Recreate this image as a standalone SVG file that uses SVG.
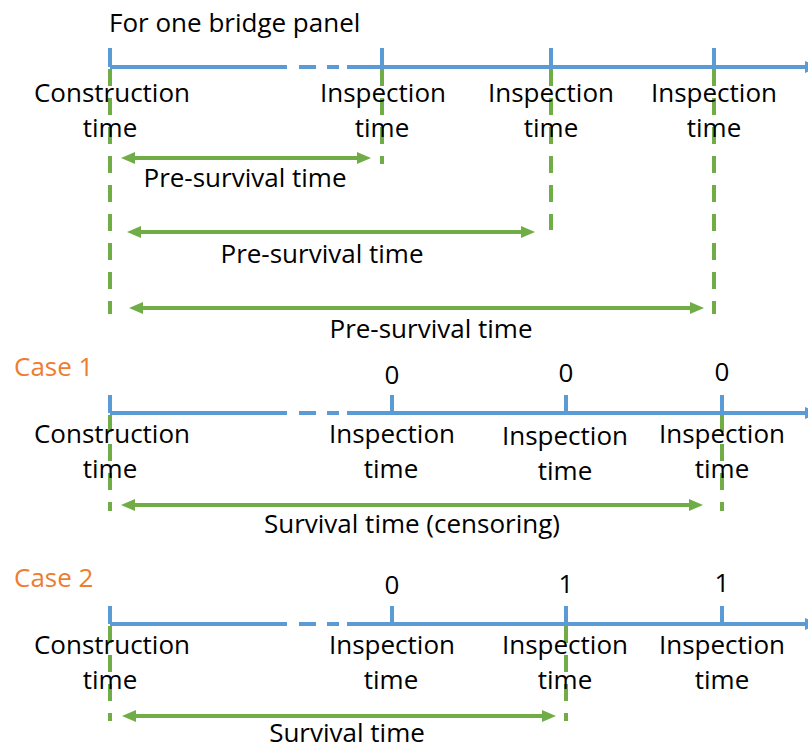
<svg xmlns="http://www.w3.org/2000/svg" width="808" height="749" viewBox="0 0 808 749">
<style>
text{font-family:"Open Sans","Noto Sans","DejaVu Sans",sans-serif;font-size:26px;fill:#000}
.c{text-anchor:middle}
.case{fill:#ED7D31}
.axis{stroke:#5B9BD5;stroke-width:4;fill:none}
.tick{stroke:#5B9BD5;stroke-width:4}
.guide{stroke:#70AD47;stroke-width:4;stroke-dasharray:17 12;fill:none}
.span{stroke:#70AD47;stroke-width:4;fill:none;marker-start:url(#ga);marker-end:url(#ga)}
</style>
<defs>
<marker id="ga" markerUnits="userSpaceOnUse" markerWidth="14" markerHeight="12" refX="1" refY="6" orient="auto-start-reverse"><path d="M0,0 L14,6 L0,12 Z" fill="#70AD47"/></marker>
<marker id="ba" markerUnits="userSpaceOnUse" markerWidth="14" markerHeight="12" refX="1" refY="6" orient="auto"><path d="M0,0 L14,6 L0,12 Z" fill="#5B9BD5"/></marker>
</defs>
<rect width="808" height="749" fill="#fff"/>

<g id="title"><text x="109" y="32">For one bridge panel</text></g>

<g id="connectors">
<path class="axis" d="M110,67 H287 M299,67 H316 M327,67 H339 M347,67 H806" marker-end="url(#ba)"/>
<path class="axis" d="M110,413 H287 M299,413 H316 M327,413 H339 M347,413 H806" marker-end="url(#ba)"/>
<path class="axis" d="M110,624 H287 M299,624 H316 M327,624 H339 M347,624 H806" marker-end="url(#ba)"/>
<path class="tick" d="M110,48 V67 M382,48 V67 M551,48 V67 M714,48 V67"/>
<path class="tick" d="M110,395 V413 M392,395 V413 M566,395 V413 M722,395 V413"/>
<path class="tick" d="M110,606 V624 M392,606 V624 M566,606 V624 M722,606 V624"/>
<path class="guide" d="M110,69 V314 M382,69 V164 M551,69 V230 M714,69 V314"/>
<path class="guide" d="M110,415 V511 M722,415 V511"/>
<path class="guide" d="M110,626 V721 M566,626 V721"/>
<path class="span" d="M134,158 H358"/>
<path class="span" d="M140,232 H522"/>
<path class="span" d="M142,308 H691"/>
<path class="span" d="M134,505 H690"/>
<path class="span" d="M135,716 H543"/>
</g>

<g id="top-construction"><text class="c" x="112" y="102">Construction</text><text class="c" x="110" y="137">time</text></g>
<g id="top-inspection-1"><text class="c" x="383" y="102">Inspection</text><text class="c" x="382" y="137">time</text></g>
<g id="top-inspection-2"><text class="c" x="551" y="102">Inspection</text><text class="c" x="551" y="137">time</text></g>
<g id="top-inspection-3"><text class="c" x="714" y="102">Inspection</text><text class="c" x="714" y="137">time</text></g>
<g id="pre-survival-1"><text class="c" x="245" y="187">Pre-survival time</text></g>
<g id="pre-survival-2"><text class="c" x="322" y="263">Pre-survival time</text></g>
<g id="pre-survival-3"><text class="c" x="431" y="338">Pre-survival time</text></g>

<g id="case1-label"><text class="case" x="14" y="376">Case 1</text></g>
<g id="case1-values"><text class="c" x="392" y="384">0</text><text class="c" x="566" y="382">0</text><text class="c" x="722" y="381">0</text></g>
<g id="case1-construction"><text class="c" x="112" y="443">Construction</text><text class="c" x="110" y="478">time</text></g>
<g id="case1-inspection-1"><text class="c" x="392" y="443">Inspection</text><text class="c" x="391" y="478">time</text></g>
<g id="case1-inspection-2"><text class="c" x="565" y="445">Inspection</text><text class="c" x="565" y="480">time</text></g>
<g id="case1-inspection-3"><text class="c" x="722" y="443">Inspection</text><text class="c" x="722" y="478">time</text></g>
<g id="case1-survival"><text class="c" x="412" y="533">Survival time (censoring)</text></g>

<g id="case2-label"><text class="case" x="14" y="587">Case 2</text></g>
<g id="case2-values"><text class="c" x="392" y="594">0</text><text class="c" x="566" y="593">1</text><text class="c" x="722" y="592">1</text></g>
<g id="case2-construction"><text class="c" x="112" y="654">Construction</text><text class="c" x="110" y="689">time</text></g>
<g id="case2-inspection-1"><text class="c" x="392" y="654">Inspection</text><text class="c" x="391" y="689">time</text></g>
<g id="case2-inspection-2"><text class="c" x="565" y="654">Inspection</text><text class="c" x="565" y="689">time</text></g>
<g id="case2-inspection-3"><text class="c" x="722" y="654">Inspection</text><text class="c" x="722" y="689">time</text></g>
<g id="case2-survival"><text class="c" x="347" y="742">Survival time</text></g>
</svg>
